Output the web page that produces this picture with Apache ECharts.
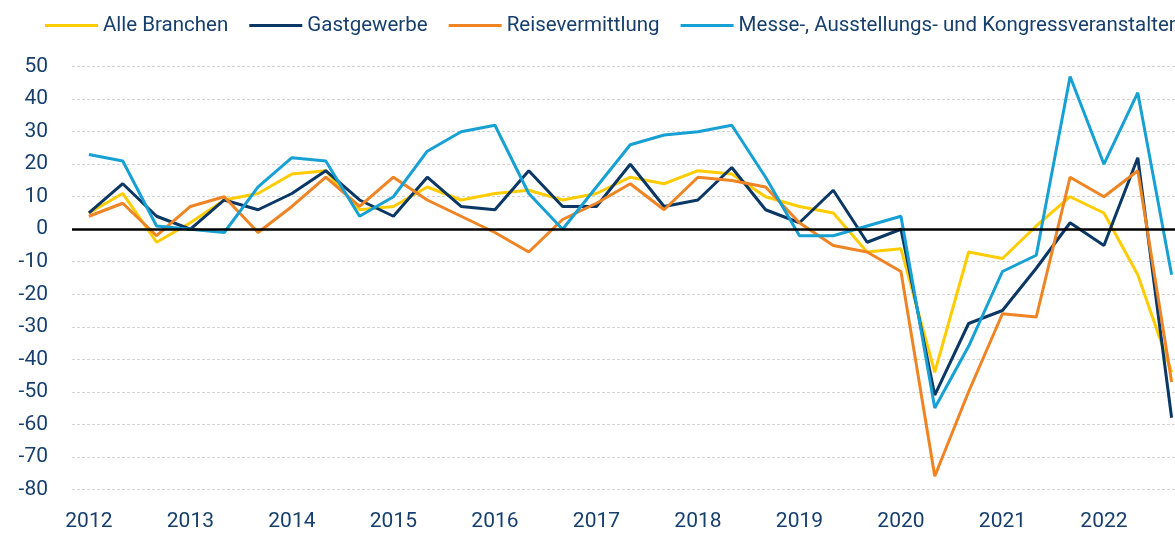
<!DOCTYPE html>
<html>
<head>
<meta charset="utf-8">
<script src="https://cdn.jsdelivr.net/npm/echarts@6/dist/echarts.min.js"></script>
<style>
  html, body { margin: 0; padding: 0; background: #fff; }
  #chart { width: 1175px; height: 534px; }
</style>
</head>
<body>
<div id="chart"></div>
<script>
// drei Werte pro Jahr, 2012 bis 2022
const years = ['2012', '2013', '2014', '2015', '2016', '2017', '2018', '2019', '2020', '2021', '2022']
const names = ['Alle Branchen', 'Gastgewerbe', 'Reisevermittlung', 'Messe-, Ausstellungs- und Kongressveranstalter']

const alleBranchen = [5, 11, -4, 2, 9, 11, 17, 18, 6, 7, 13, 9, 11, 12, 9, 11, 16, 14, 18, 17, 10, 7, 5, -7, -6, -44, -7, -9, 1, 10, 5, -14, -44]
const gastgewerbe = [5, 14, 4, 0, 9, 6, 11, 18, 9, 4, 16, 7, 6, 18, 7, 7, 20, 7, 9, 19, 6, 2, 12, -4, 0, -51, -29, -25, -12, 2, -5, 22, -58]
const reisevermittlung = [4, 8, -2, 7, 10, -1, 7, 16, 7, 16, 9, 4, -1, -7, 3, 8, 14, 6, 16, 15, 13, 2, -5, -7, -13, -76, -50, -26, -27, 16, 10, 18, -47]
const messe = [23, 21, 1, 0, -1, 13, 22, 21, 4, 10, 24, 30, 32, 11, 0, 13, 26, 29, 30, 32, 16, -2, -2, 1, 4, -55, -36, -13, -8, 47, 20, 42, -14]

const colors = ['#FFCC00', '#0B3764', '#EE8423', '#16A0D3']
const textColor = '#163F6D'
const font = 'Roboto'

const chart = echarts.init(document.getElementById('chart'))

function toPoints(arr) {
  return arr.map((v, i) => [i, v])
}

const allData = [alleBranchen, gastgewerbe, reisevermittlung, messe]

const series = allData.map((arr, k) => ({
  name: names[k],
  type: 'line',
  data: toPoints(arr),
  symbol: 'none',
  lineStyle: { color: colors[k], width: 3 },
  itemStyle: { color: colors[k] },
  animation: false
}))

series[0].markLine = {
  silent: true,
  symbol: 'none',
  label: { show: false },
  lineStyle: { color: '#000', width: 2.5, type: 'solid' },
  data: [{ yAxis: 0 }]
}

chart.setOption({
  animation: false,
  legend: {
    left: 45,
    top: 15,
    width: 1170,
    padding: 0,
    icon: 'rect',
    itemWidth: 53,
    itemHeight: 3,
    itemGap: 21,
    textStyle: { color: textColor, fontSize: 20.5, fontFamily: font },
    data: names
  },
  grid: { left: 72, right: 0, top: 66.7, bottom: 44.7 },
  xAxis: {
    type: 'value',
    min: -0.5,
    max: 32.1,
    axisLine: { show: false },
    axisTick: { show: false },
    splitLine: { show: false },
    axisLabel: {
      customValues: years.map((y, i) => i * 3),
      formatter: v => years[Math.round(v / 3)],
      color: textColor,
      fontSize: 21,
      fontFamily: font,
      margin: 22
    }
  },
  yAxis: {
    type: 'value',
    min: -80,
    max: 50,
    interval: 10,
    axisLine: { show: false },
    axisTick: { show: false },
    axisLabel: { color: textColor, fontSize: 21, fontFamily: font, margin: 24 },
    splitLine: { lineStyle: { color: '#d4d4d4', width: 1, type: [3, 2] } }
  },
  series: series
})
</script>
</body>
</html>
